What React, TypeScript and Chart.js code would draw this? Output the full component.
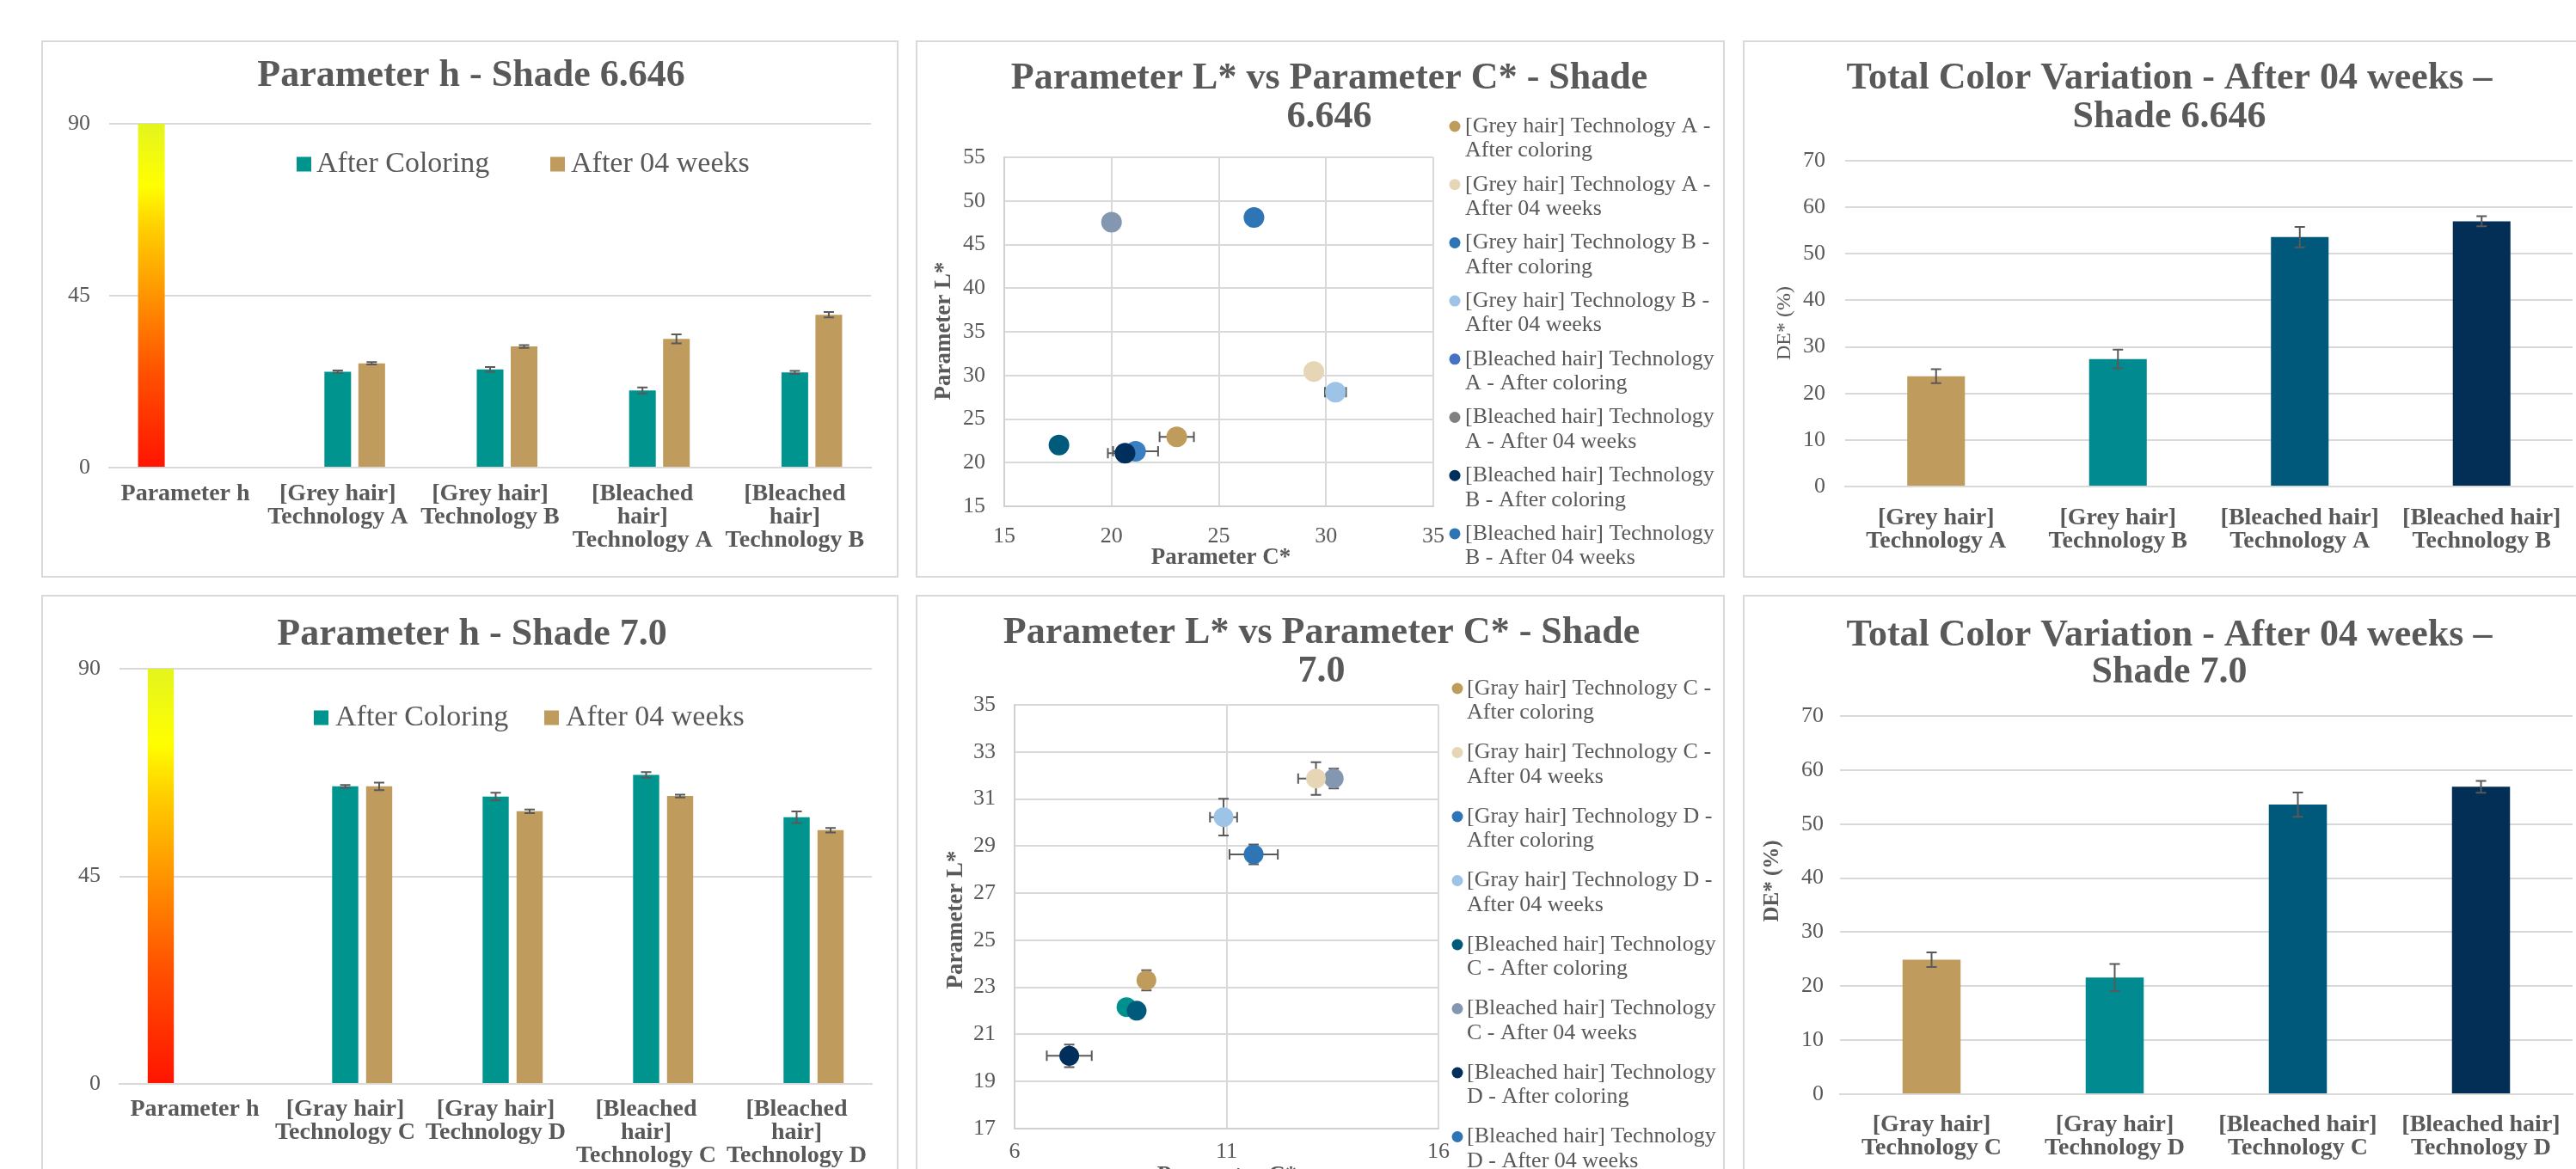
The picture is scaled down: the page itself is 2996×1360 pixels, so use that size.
import React, { useEffect, useRef } from "react";
import { Chart, registerables } from "chart.js";

Chart.register(...registerables);

const FONT = "'Liberation Serif', 'Times New Roman', serif";
const INK = "#595959";
const GRID = "#d9d9d9";
const AXIS = "#d0d0d0";
const BORDER = "#d9d9d9";
const TEAL = "#00948F";
const GOLD = "#BF9B5E";

Chart.defaults.font.family = FONT;
Chart.defaults.color = INK;

// ---------- Parameter h - Shade 6.646 ----------
const hSeriesNames = ["After Coloring", "After 04 weeks"];
const hCategories1 = [
  ["Parameter h"],
  ["[Grey hair]", "Technology A"],
  ["[Grey hair]", "Technology B"],
  ["[Bleached", "hair]", "Technology A"],
  ["[Bleached", "hair]", "Technology B"],
];
const hScale1 = [90, null, null, null, null];
const hColoring1 = [null, 25.1, 25.7, 20.2, 24.9];
const hColoringErr1 = [0, 0.3, 0.6, 0.8, 0.4];
const hWeeks1 = [null, 27.3, 31.7, 33.7, 40.0];
const hWeeksErr1 = [0, 0.3, 0.35, 1.2, 0.7];

// ---------- Parameter h - Shade 7.0 ----------
const hCategories2 = [
  ["Parameter h"],
  ["[Gray hair]", "Technology C"],
  ["[Gray hair]", "Technology D"],
  ["[Bleached", "hair]", "Technology C"],
  ["[Bleached", "hair]", "Technology D"],
];
const hScale2 = [90, null, null, null, null];
const hColoring2 = [null, 64.5, 62.3, 67.0, 57.8];
const hColoringErr2 = [0, 0.3, 0.8, 0.6, 1.25];
const hWeeks2 = [null, 64.5, 59.1, 62.4, 55.0];
const hWeeksErr2 = [0, 0.8, 0.4, 0.3, 0.5];

// ---------- L* vs C* - Shade 6.646 ----------
const scLegend1 = [
  ["[Grey hair] Technology A -", "After coloring"],
  ["[Grey hair] Technology A -", "After 04 weeks"],
  ["[Grey hair] Technology B -", "After coloring"],
  ["[Grey hair] Technology B -", "After 04 weeks"],
  ["[Bleached hair] Technology", "A - After coloring"],
  ["[Bleached hair] Technology", "A - After 04 weeks"],
  ["[Bleached hair] Technology", "B - After coloring"],
  ["[Bleached hair] Technology", "B - After 04 weeks"],
];
const scC1 = [23.04, 29.43, 26.64, 30.44, 17.55, 20.0, 20.63, 21.12];
const scL1 = [22.96, 30.45, 48.1, 28.07, 22.03, 47.57, 21.08, 21.31];
const scCErr1 = [0.8, 0, 0, 0.49, 0, 0, 0.8, 1.05];
const scLErr1 = [0, 0, 0, 0, 0, 0, 0, 0];
const scPointColors1 = ["#BF9B5C", "#E6D6B5", "#2E75B6", "#9DC3E6", "#005A7B", "#8497B0", "#002F5B", "#3A7FC1"];
const scLegendColors1 = ["#BF9B5C", "#E6D6B5", "#2E75B6", "#9DC3E6", "#4472C4", "#808080", "#002F5B", "#2E75B6"];

// ---------- L* vs C* - Shade 7.0 ----------
const scLegend2 = [
  ["[Gray hair] Technology C -", "After coloring"],
  ["[Gray hair] Technology C -", "After 04 weeks"],
  ["[Gray hair] Technology D -", "After coloring"],
  ["[Gray hair] Technology D -", "After 04 weeks"],
  ["[Bleached hair] Technology", "C - After coloring"],
  ["[Bleached hair] Technology", "C - After 04 weeks"],
  ["[Bleached hair] Technology", "D - After coloring"],
  ["[Bleached hair] Technology", "D - After 04 weeks"],
];
const scC2 = [9.11, 13.11, 11.64, 10.93, 8.88, 13.53, 7.29, 8.64];
const scL2 = [23.3, 31.87, 28.65, 30.23, 22.01, 31.87, 20.09, 22.16];
const scCErr2 = [0, 0.42, 0.57, 0.32, 0, 0, 0.53, 0];
const scLErr2 = [0.43, 0.69, 0.42, 0.78, 0, 0.42, 0.48, 0];
const scPointColors2 = ["#BF9B5C", "#E6D6B5", "#2E75B6", "#9DC3E6", "#005A7B", "#8497B0", "#002F5B", "#00918F"];
const scLegendColors2 = ["#BF9B5C", "#E6D6B5", "#2E75B6", "#9DC3E6", "#005A7B", "#8497B0", "#002F5B", "#2E75B6"];

// ---------- Total Color Variation ----------
const deCategories1 = [
  ["[Grey hair]", "Technology A"],
  ["[Grey hair]", "Technology B"],
  ["[Bleached hair]", "Technology A"],
  ["[Bleached hair]", "Technology B"],
];
const deValues1 = [23.7, 27.4, 53.6, 57.0];
const deErr1 = [1.5, 2.0, 2.2, 1.1];
const deCategories2 = [
  ["[Gray hair]", "Technology C"],
  ["[Gray hair]", "Technology D"],
  ["[Bleached hair]", "Technology C"],
  ["[Bleached hair]", "Technology D"],
];
const deValues2 = [24.9, 21.6, 53.6, 56.9];
const deErr2 = [1.35, 2.5, 2.25, 1.1];
const deColors = ["#BF9B5E", "#018A8F", "#00587A", "#032F56"];

const hueStops: [number, string][] = [
  [0, "#FF1400"],
  [0.28, "#FF5200"],
  [0.52, "#FF9A00"],
  [0.7, "#FFD000"],
  [0.82, "#FFFF00"],
  [1, "#E4F41E"],
];

type Area = { l: number; t: number; r: number; b: number };
type Box = { left: number; top: number; w: number; h: number };
type Txt = { text: string; x: number; y: number; size: number; bold?: boolean; rotate?: boolean; align?: CanvasTextAlign };
type Mark = { shape: "square" | "circle"; x: number; y: number; size: number; color: string };

function decorPlugin(texts: Txt[], marks: Mark[]) {
  return {
    id: "decor",
    afterDraw(chart: any) {
      const ctx = chart.ctx as CanvasRenderingContext2D;
      ctx.save();
      for (const m of marks) {
        ctx.fillStyle = m.color;
        if (m.shape === "square") {
          ctx.fillRect(m.x - m.size / 2, m.y - m.size / 2, m.size, m.size);
        } else {
          ctx.beginPath();
          ctx.arc(m.x, m.y, m.size / 2, 0, Math.PI * 2);
          ctx.fill();
        }
      }
      for (const t of texts) {
        ctx.save();
        ctx.font = `${t.bold ? "bold " : ""}${t.size}px ${FONT}`;
        ctx.fillStyle = INK;
        ctx.textAlign = t.align || "center";
        ctx.textBaseline = "middle";
        ctx.translate(t.x, t.y);
        if (t.rotate) ctx.rotate(-Math.PI / 2);
        ctx.fillText(t.text, 0, 0);
        ctx.restore();
      }
      ctx.restore();
    },
  };
}

function errorPlugin(behind: boolean) {
  const draw = (chart: any) => {
    const ctx = chart.ctx as CanvasRenderingContext2D;
    ctx.save();
    ctx.strokeStyle = INK;
    ctx.lineWidth = 2;
    const cap = 6;
    chart.data.datasets.forEach((ds: any, di: number) => {
      const meta = chart.getDatasetMeta(di);
      const xs = chart.scales[meta.xAxisID];
      const ys = chart.scales[meta.yAxisID];
      meta.data.forEach((el: any, i: number) => {
        const raw = ds.data[i];
        if (raw == null) return;
        const yv = typeof raw === "number" ? raw : raw.y;
        const xv = typeof raw === "number" ? null : raw.x;
        const ey = ds.errY ? ds.errY[i] : 0;
        const ex = ds.errX ? ds.errX[i] : 0;
        ctx.beginPath();
        if (ey) {
          const y1 = ys.getPixelForValue(yv - ey);
          const y2 = ys.getPixelForValue(yv + ey);
          ctx.moveTo(el.x, y1);
          ctx.lineTo(el.x, y2);
          ctx.moveTo(el.x - cap, y1);
          ctx.lineTo(el.x + cap, y1);
          ctx.moveTo(el.x - cap, y2);
          ctx.lineTo(el.x + cap, y2);
        }
        if (ex && xv != null) {
          const x1 = xs.getPixelForValue(xv - ex);
          const x2 = xs.getPixelForValue(xv + ex);
          ctx.moveTo(x1, el.y);
          ctx.lineTo(x2, el.y);
          ctx.moveTo(x1, el.y - cap);
          ctx.lineTo(x1, el.y + cap);
          ctx.moveTo(x2, el.y - cap);
          ctx.lineTo(x2, el.y + cap);
        }
        ctx.stroke();
      });
    });
    ctx.restore();
  };
  return {
    id: "errbars",
    beforeDatasetsDraw(c: any) {
      if (behind) draw(c);
    },
    afterDatasetsDraw(c: any) {
      if (!behind) draw(c);
    },
  };
}

const gradientFill = (c: any) => {
  const chart = c.chart;
  const a = chart.chartArea;
  if (!a) return hueStops[0][1];
  const top = chart.scales.y.getPixelForValue(typeof c.raw === "number" ? c.raw : chart.scales.y.max);
  const g = chart.ctx.createLinearGradient(0, a.bottom, 0, top);
  hueStops.forEach(([p, col]) => g.addColorStop(p, col));
  return g;
};

const baseOptions = (area: Area, W: number) => ({
  responsive: false,
  maintainAspectRatio: false,
  animation: false,
  devicePixelRatio: 1,
  events: [],
  layout: { padding: { left: 0, top: area.t, right: W - area.r, bottom: 0 } },
  plugins: { legend: { display: false }, tooltip: { enabled: false }, title: { display: false } },
});

const catTickFont = { family: FONT, size: 28, weight: "bold" as const, lineHeight: 27 / 28 };
const numTickFont = { family: FONT, size: 26 };

function hueConfig(
  W: number,
  H: number,
  o: {
    cats: string[][];
    scale: (number | null)[];
    coloring: (number | null)[];
    coloringErr: number[];
    weeks: (number | null)[];
    weeksErr: number[];
    area: Area;
    xPad: number;
    yPad: number;
    catPct: number;
    barPct: number;
    texts: Txt[];
    marks: Mark[];
  }
) {
  const area = o.area;
  return {
    type: "bar",
    data: {
      labels: o.cats,
      datasets: [
        { label: "Parameter h", data: o.scale, backgroundColor: gradientFill },
        { label: hSeriesNames[0], data: o.coloring, backgroundColor: TEAL, errY: o.coloringErr },
        { label: hSeriesNames[1], data: o.weeks, backgroundColor: GOLD, errY: o.weeksErr },
      ],
    },
    options: {
      ...baseOptions(area, W),
      datasets: { bar: { categoryPercentage: o.catPct, barPercentage: o.barPct } },
      scales: {
        x: {
          grid: { display: false },
          border: { display: true, color: GRID, width: 2 },
          ticks: { color: INK, font: catTickFont, padding: o.xPad, autoSkip: false, maxRotation: 0, minRotation: 0 },
          afterFit: (s: any) => {
            s.height = H - area.b;
          },
        },
        y: {
          min: 0,
          max: 90,
          ticks: { stepSize: 45, color: INK, font: numTickFont, padding: o.yPad },
          grid: { color: GRID, lineWidth: 2, drawTicks: false },
          border: { display: false },
          afterFit: (s: any) => {
            s.width = area.l;
          },
        },
      },
    },
    plugins: [errorPlugin(false), decorPlugin(o.texts, o.marks)],
  };
}

function deConfig(
  W: number,
  H: number,
  o: { cats: string[][]; values: number[]; errs: number[]; area: Area; xPad: number; yPad: number; texts: Txt[] }
) {
  const area = o.area;
  return {
    type: "bar",
    data: {
      labels: o.cats,
      datasets: [
        {
          label: "DE*",
          data: o.values,
          backgroundColor: deColors,
          errY: o.errs,
          categoryPercentage: 1,
          barPercentage: 0.317,
        },
      ],
    },
    options: {
      ...baseOptions(area, W),
      scales: {
        x: {
          grid: { display: false },
          border: { display: true, color: GRID, width: 2 },
          ticks: { color: INK, font: catTickFont, padding: o.xPad, autoSkip: false, maxRotation: 0, minRotation: 0 },
          afterFit: (s: any) => {
            s.height = H - area.b;
          },
        },
        y: {
          min: 0,
          max: 70,
          ticks: { stepSize: 10, color: INK, font: numTickFont, padding: o.yPad },
          grid: { color: GRID, lineWidth: 2, drawTicks: false },
          border: { display: false },
          afterFit: (s: any) => {
            s.width = area.l;
          },
        },
      },
    },
    plugins: [errorPlugin(false), decorPlugin(o.texts, [])],
  };
}

function scatterConfig(
  W: number,
  H: number,
  o: {
    legend: string[][];
    cs: number[];
    ls: number[];
    cErr: number[];
    lErr: number[];
    colors: string[];
    legendColors: string[];
    radius: number;
    xRange: [number, number, number];
    yRange: [number, number, number];
    area: Area;
    xPad: number;
    yPad: number;
    texts: Txt[];
    legendPos: { dotX: number; textX: number; firstY: number; step: number; lineGap: number };
  }
) {
  const area = o.area;
  const lp = o.legendPos;
  const texts: Txt[] = [...o.texts];
  const marks: Mark[] = [];
  o.legend.forEach((lines, i) => {
    const y = lp.firstY + i * lp.step;
    marks.push({ shape: "circle", x: lp.dotX, y, size: 13, color: o.legendColors[i] });
    lines.forEach((ln, j) => texts.push({ text: ln, x: lp.textX, y: y + j * lp.lineGap, size: 26, align: "left" }));
  });
  return {
    type: "scatter",
    data: {
      datasets: o.legend.map((lines, i) => ({
        label: lines.join(" "),
        data: [{ x: o.cs[i], y: o.ls[i] }],
        errX: [o.cErr[i]],
        errY: [o.lErr[i]],
        pointRadius: o.radius,
        pointHoverRadius: o.radius,
        pointBackgroundColor: o.colors[i],
        pointBorderWidth: 0,
        pointBorderColor: "rgba(0,0,0,0)",
        showLine: false,
      })),
    },
    options: {
      ...baseOptions(area, W),
      scales: {
        x: {
          type: "linear",
          min: o.xRange[0],
          max: o.xRange[1],
          ticks: { stepSize: o.xRange[2], color: INK, font: numTickFont, padding: o.xPad },
          grid: { color: GRID, lineWidth: 2, drawTicks: false },
          border: { display: true, color: AXIS, width: 2 },
          afterFit: (s: any) => {
            s.height = H - area.b;
          },
        },
        y: {
          type: "linear",
          min: o.yRange[0],
          max: o.yRange[1],
          ticks: { stepSize: o.yRange[2], color: INK, font: numTickFont, padding: o.yPad },
          grid: { color: GRID, lineWidth: 2, drawTicks: false },
          border: { display: true, color: AXIS, width: 2 },
          afterFit: (s: any) => {
            s.width = area.l;
          },
        },
      },
    },
    plugins: [errorPlugin(true), decorPlugin(texts, marks)],
  };
}

function ChartPanel({ box, make }: { box: Box; make: (W: number, H: number) => any }) {
  const ref = useRef<HTMLCanvasElement | null>(null);
  const W = box.w - 4;
  const H = box.h - 4;
  useEffect(() => {
    if (!ref.current) return;
    const chart = new Chart(ref.current, make(W, H));
    return () => chart.destroy();
  }, []);
  return (
    <div
      style={{
        position: "absolute",
        left: box.left,
        top: box.top,
        width: box.w,
        height: box.h,
        boxSizing: "border-box",
        border: `2px solid ${BORDER}`,
        background: "#fff",
      }}
    >
      <canvas ref={ref} width={W} height={H} style={{ display: "block", width: W, height: H }} />
    </div>
  );
}

const P1: Box = { left: 48, top: 47, w: 997, h: 625 };
const P2: Box = { left: 1065, top: 47, w: 941, h: 625 };
const P3: Box = { left: 2027, top: 47, w: 995, h: 625 };
const P4: Box = { left: 48, top: 692, w: 997, h: 700 };
const P5: Box = { left: 1065, top: 692, w: 941, h: 700 };
const P6: Box = { left: 2027, top: 692, w: 995, h: 700 };

export default function App() {
  return (
    <div
      style={{
        position: "fixed",
        left: 0,
        top: 0,
        width: 2996,
        height: 1360,
        overflow: "hidden",
        background: "#ffffff",
      }}
    >
      <ChartPanel
        box={P1}
        make={(W, H) =>
          hueConfig(W, H, {
            cats: hCategories1,
            scale: hScale1,
            coloring: hColoring1,
            coloringErr: hColoringErr1,
            weeks: hWeeks1,
            weeksErr: hWeeksErr1,
            area: { l: 77, t: 95, r: 963, b: 495 },
            xPad: 9,
            yPad: 22,
            catPct: 0.669,
            barPct: 0.785,
            texts: [
              { text: "Parameter h - Shade 6.646", x: 498, y: 40, size: 44, bold: true },
              { text: hSeriesNames[0], x: 318, y: 142, size: 34, align: "left" },
              { text: hSeriesNames[1], x: 614, y: 142, size: 34, align: "left" },
            ],
            marks: [
              { shape: "square", x: 303.5, y: 142, size: 17, color: TEAL },
              { shape: "square", x: 598.5, y: 142, size: 17, color: GOLD },
            ],
          })
        }
      />
      <ChartPanel
        box={P2}
        make={(W, H) =>
          scatterConfig(W, H, {
            legend: scLegend1,
            cs: scC1,
            ls: scL1,
            cErr: scCErr1,
            lErr: scLErr1,
            colors: scPointColors1,
            legendColors: scLegendColors1,
            radius: 12,
            xRange: [15, 35, 5],
            yRange: [15, 55, 5],
            area: { l: 101, t: 134, r: 600, b: 540 },
            xPad: 20,
            yPad: 22,
            texts: [
              { text: "Parameter L* vs Parameter C* - Shade", x: 479, y: 43, size: 44, bold: true },
              { text: "6.646", x: 479, y: 88, size: 44, bold: true },
              { text: "Parameter L*", x: 31, y: 336, size: 27, bold: true, rotate: true },
              { text: "Parameter C*", x: 353, y: 600, size: 27, bold: true },
            ],
            legendPos: { dotX: 625, textX: 637, firstY: 98, step: 67.7, lineGap: 28.5 },
          })
        }
      />
      <ChartPanel
        box={P3}
        make={(W, H) =>
          deConfig(W, H, {
            cats: deCategories1,
            values: deValues1,
            errs: deErr1,
            area: { l: 117, t: 138, r: 963, b: 517 },
            xPad: 15,
            yPad: 23,
            texts: [
              { text: "Total Color Variation - After 04 weeks –", x: 494, y: 43, size: 44, bold: true },
              { text: "Shade 6.646", x: 494, y: 88, size: 44, bold: true },
              { text: "DE* (%)", x: 47, y: 327, size: 24, rotate: true },
            ],
          })
        }
      />
      <ChartPanel
        box={P4}
        make={(W, H) =>
          hueConfig(W, H, {
            cats: hCategories2,
            scale: hScale2,
            coloring: hColoring2,
            coloringErr: hColoringErr2,
            weeks: hWeeks2,
            weeksErr: hWeeksErr2,
            area: { l: 89, t: 84, r: 964, b: 567 },
            xPad: 8,
            yPad: 22,
            catPct: 0.677,
            barPct: 0.77,
            texts: [
              { text: "Parameter h - Shade 7.0", x: 499, y: 45, size: 44, bold: true },
              { text: hSeriesNames[0], x: 340, y: 141, size: 34, align: "left" },
              { text: hSeriesNames[1], x: 608, y: 141, size: 34, align: "left" },
            ],
            marks: [
              { shape: "square", x: 323.5, y: 141, size: 17, color: TEAL },
              { shape: "square", x: 591.5, y: 141, size: 17, color: GOLD },
            ],
          })
        }
      />
      <ChartPanel
        box={P5}
        make={(W, H) =>
          scatterConfig(W, H, {
            legend: scLegend2,
            cs: scC2,
            ls: scL2,
            cErr: scCErr2,
            lErr: scLErr2,
            colors: scPointColors2,
            legendColors: scLegendColors2,
            radius: 11.5,
            xRange: [6, 16, 5],
            yRange: [17, 35, 2],
            area: { l: 113, t: 126, r: 606, b: 619 },
            xPad: 12,
            yPad: 22,
            texts: [
              { text: "Parameter L* vs Parameter C* - Shade", x: 470, y: 43, size: 44, bold: true },
              { text: "7.0", x: 470, y: 88, size: 44, bold: true },
              { text: "Parameter L*", x: 45, y: 376, size: 27, bold: true, rotate: true },
              { text: "Parameter C*", x: 360, y: 674, size: 27, bold: true },
            ],
            legendPos: { dotX: 628, textX: 639, firstY: 107, step: 74.5, lineGap: 28.5 },
          })
        }
      />
      <ChartPanel
        box={P6}
        make={(W, H) =>
          deConfig(W, H, {
            cats: deCategories2,
            values: deValues2,
            errs: deErr2,
            area: { l: 111, t: 139, r: 963, b: 579 },
            xPad: 14,
            yPad: 19,
            texts: [
              { text: "Total Color Variation - After 04 weeks –", x: 494, y: 46, size: 44, bold: true },
              { text: "Shade 7.0", x: 494, y: 89, size: 44, bold: true },
              { text: "DE* (%)", x: 33, y: 331, size: 25, bold: true, rotate: true },
            ],
          })
        }
      />
    </div>
  );
}
